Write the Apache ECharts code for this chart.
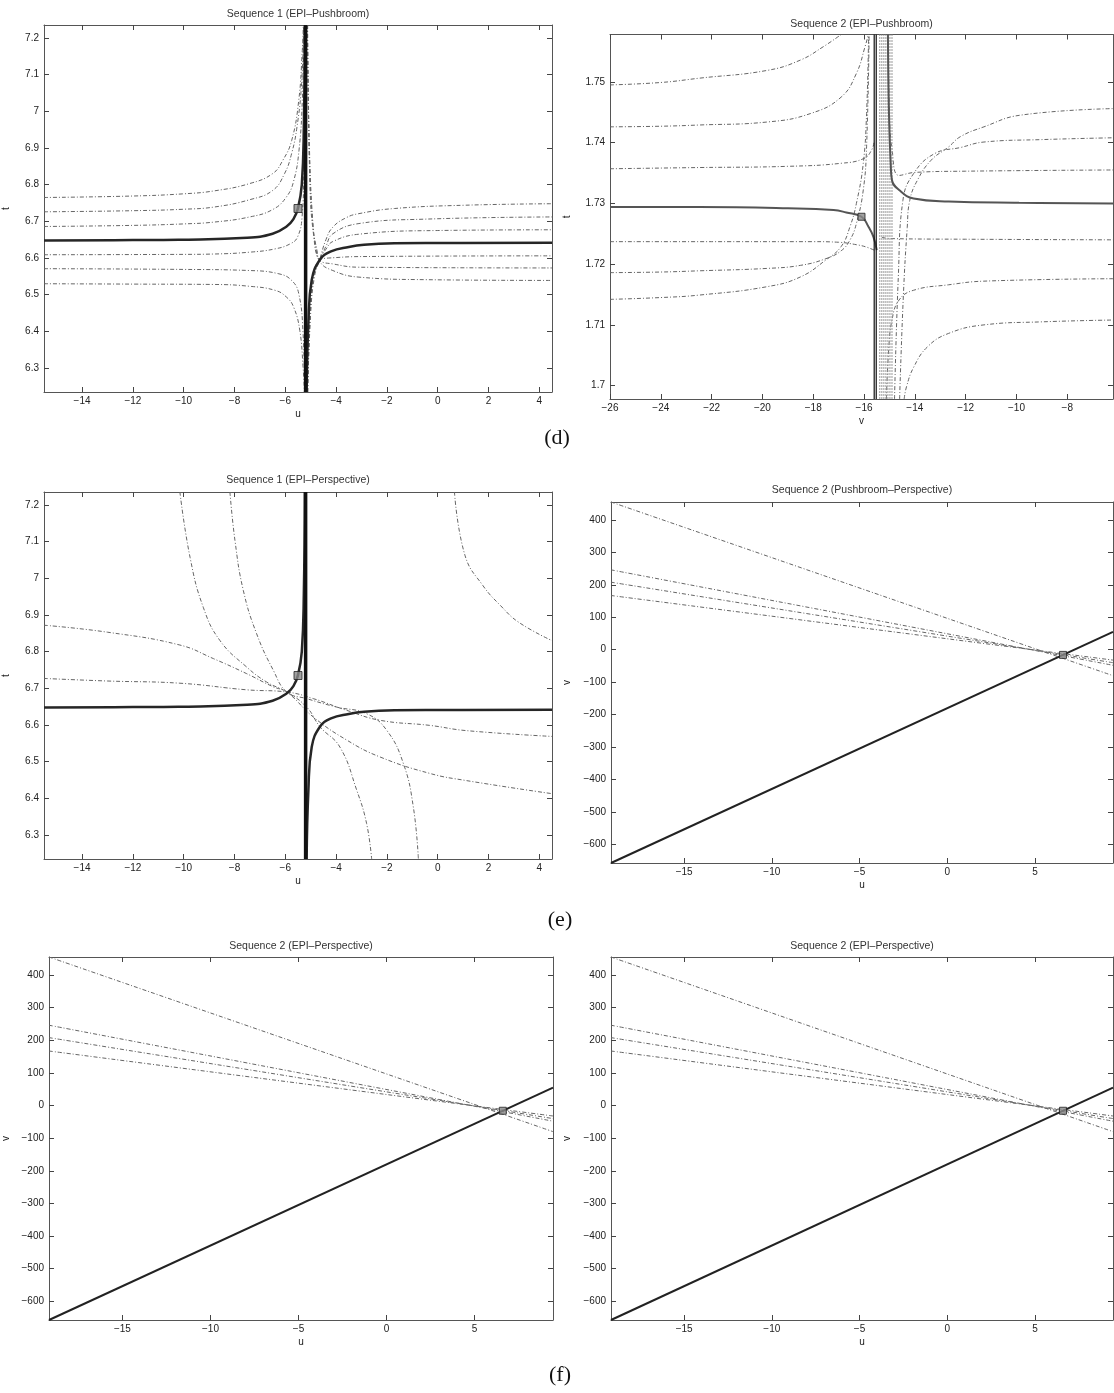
<!DOCTYPE html>
<html>
<head>
<meta charset="utf-8">
<title>Epipolar curves</title>
<script src="https://cdn.jsdelivr.net/npm/echarts@6/dist/echarts.min.js"></script>
<style>
  html, body { margin: 0; padding: 0; background: #fff; }
  #main { width: 1114px; height: 1393px; }
</style>
</head>
<body>
<div id="main"></div>
<script>
// ---- axis ranges & ticks ----
const s1X = [-15.5, 4.5]
const s1Y = [6.235, 7.235]
const s2X = [-26, -6.2]
const s2Y = [1.6978, 1.7578]
const uvX = [-19.17, 9.45]
const uvY = [-657, 455]

const s1XTicks = [-14, -12, -10, -8, -6, -4, -2, 0, 2, 4]
const s1YTicks = [6.3, 6.4, 6.5, 6.6, 6.7, 6.8, 6.9, 7, 7.1, 7.2]
const s2XTicks = [-26, -24, -22, -20, -18, -16, -14, -12, -10, -8]
const s2YTicks = [1.7, 1.71, 1.72, 1.73, 1.74, 1.75]
const uvXTicks = [-15, -10, -5, 0, 5]
const uvYTicks = [-600, -500, -400, -300, -200, -100, 0, 100, 200, 300, 400]

// ---- sequence 1, EPI-Pushbroom (u, t) ----
const s1Pole = -5.2
const s1A = [[-15.5, 6.765], [-12, 6.769], [-10, 6.775], [-8.8, 6.783], [-7.4, 6.803], [-6.5, 6.83], [-6.1, 6.866], [-5.75, 6.92], [-5.47, 7.03], [-5.33, 7.166], [-5.29, 7.235]]
const s1B = [[-15.5, 6.726], [-12, 6.729], [-10, 6.733], [-8.8, 6.739], [-7.4, 6.759], [-6.5, 6.784], [-6.03, 6.83], [-5.75, 6.885], [-5.54, 6.957], [-5.36, 7.075], [-5.28, 7.235]]
const s1C = [[-15.5, 6.686], [-12, 6.689], [-10, 6.693], [-8.8, 6.698], [-7.4, 6.712], [-6.5, 6.732], [-5.96, 6.766], [-5.67, 6.81], [-5.46, 6.894], [-5.33, 7.03], [-5.26, 7.235]]
const s1E = [[-15.5, 6.609], [-10, 6.61], [-8.8, 6.611], [-7.4, 6.616], [-6.4, 6.625], [-5.8, 6.639], [-5.52, 6.657], [-5.34, 6.712], [-5.27, 6.85], [-5.24, 7.235]]
const s1F = [[-15.5, 6.571], [-10, 6.569], [-7.4, 6.566], [-6.25, 6.557], [-5.75, 6.539], [-5.47, 6.503], [-5.3, 6.394], [-5.24, 6.235]]
const s1G = [[-15.5, 6.53], [-12, 6.529], [-8.8, 6.528], [-7.4, 6.523], [-6.4, 6.512], [-5.96, 6.494], [-5.67, 6.466], [-5.43, 6.403], [-5.3, 6.303], [-5.25, 6.235]]
const s1R1 = [[-5.12, 6.235], [-5.0, 6.45], [-4.85, 6.55], [-4.65, 6.595], [-4.4, 6.65], [-4.13, 6.684], [-3.6, 6.71], [-3.1, 6.721], [-1.7, 6.735], [1.1, 6.744], [4.5, 6.748]]
const s1R2 = [[-5.12, 6.235], [-5.0, 6.47], [-4.85, 6.56], [-4.65, 6.595], [-4.4, 6.632], [-4.13, 6.666], [-3.1, 6.694], [-0.5, 6.706], [4.5, 6.712]]
const s1R3 = [[-5.12, 6.235], [-5.0, 6.49], [-4.85, 6.57], [-4.65, 6.597], [-4.4, 6.624], [-4.13, 6.645], [-3.1, 6.665], [0, 6.675], [4.5, 6.677]]
const s1R5 = [[-5.13, 7.235], [-5.05, 6.9], [-4.92, 6.7], [-4.8, 6.63], [-4.65, 6.598], [-4.3, 6.6], [-3.1, 6.604], [4.5, 6.606]]
const s1R6 = [[-5.13, 7.235], [-5.04, 6.85], [-4.9, 6.68], [-4.75, 6.62], [-4.65, 6.594], [-4.13, 6.584], [-3.1, 6.575], [4.5, 6.573]]
const s1R7 = [[-5.12, 7.235], [-5.03, 6.8], [-4.88, 6.66], [-4.65, 6.592], [-4.13, 6.566], [-3.1, 6.548], [-0.4, 6.541], [4.5, 6.539]]
// true curve (same in both sequence 1 plots)
const s1TrueLeft = [[-15.5, 6.648], [-12, 6.649], [-10.2, 6.65], [-7.5, 6.655], [-6.5, 6.666], [-5.95, 6.686], [-5.68, 6.706], [-5.5, 6.736], [-5.35, 6.8], [-5.27, 6.96], [-5.23, 7.235]]
const s1TrueRight = [[-5.16, 6.235], [-5.09, 6.423], [-4.96, 6.54], [-4.63, 6.596], [-4.2, 6.618], [-3.5, 6.63], [-2.9, 6.636], [-1.7, 6.64], [0, 6.641], [4.5, 6.642]]
const s1Mark = [[-5.5, 6.735]]

// ---- sequence 1, EPI-Perspective (u, t) ----
const s1P1 = [[-10.15, 7.235], [-9.75, 7.057], [-9.23, 6.921], [-8.57, 6.83], [-7.52, 6.758], [-6.73, 6.717], [-5.94, 6.69], [-5.16, 6.649], [-4.63, 6.595], [-3.85, 6.54], [-3.19, 6.423], [-2.8, 6.332], [-2.6, 6.235]]
const s1P2 = [[-8.18, 7.235], [-7.98, 7.102], [-7.65, 6.966], [-7.13, 6.849], [-6.47, 6.749], [-5.94, 6.69], [-5.16, 6.672], [-3.98, 6.649], [-2.8, 6.631], [-2.01, 6.586], [-1.35, 6.495], [-0.96, 6.377], [-0.76, 6.235]]
const s1P3 = [[0.66, 7.235], [1.08, 7.061], [1.78, 6.98], [2.48, 6.925], [3.19, 6.88], [4.5, 6.83]]
const s1P4 = [[-15.5, 6.872], [-13, 6.853], [-10.15, 6.818], [-8.83, 6.781], [-7.52, 6.74], [-6.47, 6.704], [-5.94, 6.69], [-4.9, 6.622], [-3.58, 6.559], [-2.27, 6.513], [-0.3, 6.468], [1.1, 6.449], [4.5, 6.413]]
const s1P5 = [[-15.5, 6.727], [-13, 6.72], [-10.15, 6.714], [-7.52, 6.696], [-5.94, 6.69], [-4.9, 6.672], [-3.58, 6.64], [-2.27, 6.613], [-0.3, 6.599], [1.1, 6.585], [4.5, 6.569]]

// ---- sequence 2, EPI-Pushbroom (v, t) ----
const s2Poles = [-15.6, -15.52]
const s2Band = [-15.38, -15.3, -15.22, -15.14, -15.06, -14.98, -14.9]
const s2L1 = [[-26, 1.7495], [-24, 1.7499], [-22.5, 1.7506], [-19.8, 1.7519], [-18.5, 1.7536], [-17.6, 1.7558], [-16.9, 1.7578]]
const s2L2 = [[-26, 1.7426], [-24, 1.7427], [-22.5, 1.7429], [-19.8, 1.7434], [-18.1, 1.7448], [-16.9, 1.7475], [-16.3, 1.7514], [-15.96, 1.7558], [-15.83, 1.7578]]
const s2L3 = [[-26, 1.7357], [-22.5, 1.7359], [-19, 1.7361], [-16.9, 1.7366], [-16.0, 1.7374], [-15.7, 1.7388], [-15.6, 1.7402]]
const s2L5 = [[-26, 1.7237], [-22, 1.7237], [-18, 1.7237], [-17, 1.7236], [-16.3, 1.7232], [-15.9, 1.7228], [-15.55, 1.7222]]
const s2L6 = [[-26, 1.7186], [-24, 1.7187], [-22.5, 1.7189], [-19.8, 1.7193], [-18.5, 1.7198], [-17.5, 1.7209], [-16.9, 1.7222], [-16.55, 1.724], [-16.3, 1.7267], [-16.03, 1.7322], [-15.9, 1.7393], [-15.8, 1.7578]]
const s2L7 = [[-26, 1.7142], [-24, 1.7145], [-22.5, 1.7149], [-19.8, 1.7163], [-18.5, 1.7179], [-17.5, 1.7207], [-16.9, 1.7229], [-16.55, 1.7262], [-16.3, 1.73], [-16.03, 1.7366], [-15.9, 1.7448], [-15.82, 1.7578]]
const s2R1 = [[-14.6, 1.6978], [-14.45, 1.715], [-14.3, 1.726], [-14.2, 1.7305], [-13.9, 1.7338], [-13.36, 1.7371], [-12.67, 1.7393], [-12.2, 1.741], [-11.28, 1.7426], [-9.88, 1.7445], [-6.2, 1.7456]]
const s2R2 = [[-14.8, 1.6978], [-14.65, 1.718], [-14.47, 1.7305], [-14.05, 1.7349], [-13.22, 1.7382], [-12.2, 1.7392], [-11.28, 1.7401], [-9, 1.7405], [-6.2, 1.7408]]
const s2R3 = [[-15.05, 1.7578], [-15.0, 1.745], [-14.9, 1.739], [-14.62, 1.7346], [-14, 1.7351], [-12, 1.7353], [-6.2, 1.7355]]
const s2R5 = [[-15.3, 1.7244], [-14.9, 1.7242], [-12, 1.7241], [-6.2, 1.724]]
const s2R6 = [[-15.12, 1.6978], [-15.03, 1.7059], [-14.9, 1.7108], [-14.62, 1.7141], [-14.05, 1.7157], [-12.67, 1.7166], [-11.28, 1.7172], [-6.2, 1.7176]]
const s2R7 = [[-14.42, 1.6978], [-14.33, 1.6998], [-14.05, 1.703], [-13.5, 1.7064], [-12.67, 1.7086], [-11.28, 1.71], [-9, 1.7105], [-6.2, 1.7108]]
const s2TrueLeft = [[-26, 1.7294], [-22.5, 1.7294], [-19, 1.7292], [-17.2, 1.7289], [-16.7, 1.7285], [-16.1, 1.7278], [-15.83, 1.7262], [-15.63, 1.7245], [-15.5, 1.7223]]
const s2TrueRight = [[-15.06, 1.7578], [-15.02, 1.745], [-14.95, 1.7365], [-14.9, 1.7338], [-14.62, 1.7322], [-14.05, 1.7308], [-12.67, 1.7303], [-9.9, 1.7301], [-6.2, 1.73]]
const s2Mark = [[-16.1, 1.7278]]

// ---- sequence 2, (u, v) line plots ----
const uvSteep = [[-19.17, -657], [9.45, 55]]
const uvA = [[-19.17, 455], [9.45, -80]]
const uvB = [[-19.17, 246], [9.45, -48]]
const uvC = [[-19.17, 208], [9.45, -40]]
const uvD = [[-19.17, 167], [9.45, -32]]
const uvMark = [[6.6, -16]]

// ---- layout ----
const font = '"Liberation Sans", Arial, sans-serif'
const panels = [
  { grid: { left: 44, top: 25, width: 508, height: 367 }, xr: s1X, yr: s1Y, xt: s1XTicks, yt: s1YTicks, xName: 'u', yName: 't', yGap: 33, title: 'Sequence 1 (EPI\u2013Pushbroom)', ty: 14 },
  { grid: { left: 610, top: 34.5, width: 503, height: 364.5 }, xr: s2X, yr: s2Y, xt: s2XTicks, yt: s2YTicks, xName: 'v', yName: 't', yGap: 38, title: 'Sequence 2 (EPI\u2013Pushbroom)', ty: 24 },
  { grid: { left: 44, top: 492, width: 508, height: 367 }, xr: s1X, yr: s1Y, xt: s1XTicks, yt: s1YTicks, xName: 'u', yName: 't', yGap: 33, title: 'Sequence 1 (EPI\u2013Perspective)', ty: 480 },
  { grid: { left: 611, top: 502, width: 502, height: 361 }, xr: uvX, yr: uvY, xt: uvXTicks, yt: uvYTicks, xName: 'u', yName: 'v', yGap: 39, title: 'Sequence 2 (Pushbroom\u2013Perspective)', ty: 490 },
  { grid: { left: 49, top: 957, width: 504, height: 363 }, xr: uvX, yr: uvY, xt: uvXTicks, yt: uvYTicks, xName: 'u', yName: 'v', yGap: 38, title: 'Sequence 2 (EPI\u2013Perspective)', ty: 946 },
  { grid: { left: 611, top: 957, width: 502, height: 363 }, xr: uvX, yr: uvY, xt: uvXTicks, yt: uvYTicks, xName: 'u', yName: 'v', yGap: 39, title: 'Sequence 2 (EPI\u2013Perspective)', ty: 946 },
]

const fmt = (v) => String(Math.round(v * 1000) / 1000).replace('-', '\u2212')
const frame = { onZero: false, lineStyle: { color: '#555', width: 1 } }

const grids = []
const xAxes = []
const yAxes = []
const graphics = []
panels.forEach((p, g) => {
  grids.push(Object.assign({ containLabel: false }, p.grid))
  const xTick = { inside: true, length: 5, customValues: p.xt, lineStyle: { color: '#444' } }
  const yTick = { inside: true, length: 5, customValues: p.yt, lineStyle: { color: '#444' } }
  xAxes.push({
    gridIndex: g, type: 'value', position: 'bottom', min: p.xr[0], max: p.xr[1],
    axisLine: frame, axisTick: xTick, splitLine: { show: false },
    axisLabel: { customValues: p.xt, formatter: fmt, margin: 4, fontSize: 10, color: '#222', fontFamily: font },
    name: p.xName, nameLocation: 'middle', nameGap: 17,
    nameTextStyle: { fontSize: 10, color: '#222', fontFamily: font },
  })
  xAxes.push({
    gridIndex: g, type: 'value', position: 'top', min: p.xr[0], max: p.xr[1],
    axisLine: frame, axisTick: xTick, axisLabel: { show: false }, splitLine: { show: false },
  })
  yAxes.push({
    gridIndex: g, type: 'value', position: 'left', min: p.yr[0], max: p.yr[1],
    axisLine: frame, axisTick: yTick, splitLine: { show: false },
    axisLabel: { customValues: p.yt, formatter: fmt, margin: 5, fontSize: 10, color: '#222', fontFamily: font },
    name: p.yName, nameLocation: 'middle', nameGap: p.yGap, nameRotate: 90,
    nameTextStyle: { fontSize: 10, color: '#222', fontFamily: font },
  })
  yAxes.push({
    gridIndex: g, type: 'value', position: 'right', min: p.yr[0], max: p.yr[1],
    axisLine: frame, axisTick: yTick, axisLabel: { show: false }, splitLine: { show: false },
  })
  graphics.push({
    type: 'text', x: p.grid.left + p.grid.width / 2, y: p.ty, z: 10,
    style: { text: p.title, font: '10.5px ' + font, fill: '#333', align: 'center', verticalAlign: 'middle' },
  })
})

const labels = [['(d)', 557, 438], ['(e)', 560, 920], ['(f)', 560, 1375]]
labels.forEach(([t, x, y]) => {
  graphics.push({
    type: 'text', x: x, y: y,
    style: { text: t, font: '22px "Liberation Serif", "Times New Roman", serif', fill: '#111', align: 'center', verticalAlign: 'middle' },
  })
})

// ---- series helpers ----
const thin = { color: '#666', width: 1, type: [4, 2, 1, 2] }
const bold = { color: '#262626', width: 2.5 }
const pole = { color: '#111', width: 3.5 }

function curve(g, data, style, z) {
  return {
    type: 'line', xAxisIndex: 2 * g, yAxisIndex: 2 * g, data: data,
    showSymbol: false, smooth: 0.45, silent: true,
    lineStyle: style, z: z || 2,
  }
}
function vline(g, u, yr, style, z) {
  return {
    type: 'line', xAxisIndex: 2 * g, yAxisIndex: 2 * g, data: [[u, yr[0]], [u, yr[1]]],
    showSymbol: false, silent: true, lineStyle: style, z: z || 4,
  }
}
function mark(g, data, size) {
  return {
    type: 'scatter', xAxisIndex: 2 * g, yAxisIndex: 2 * g, data: data, symbol: 'rect',
    symbolSize: size, silent: true, z: 6,
    itemStyle: { color: '#8a8a8a', borderColor: '#222', borderWidth: 1 },
  }
}

const series = []
// panel 0
;[s1A, s1B, s1C, s1E, s1F, s1G, s1R1, s1R2, s1R3, s1R5, s1R6, s1R7].forEach((d) => series.push(curve(0, d, thin)))
series.push(curve(0, s1TrueLeft, bold, 3), curve(0, s1TrueRight, bold, 3))
series.push(vline(0, s1Pole, s1Y, pole))
series.push(mark(0, s1Mark, 8))
// panel 1
;[s2L1, s2L2, s2L3, s2L5, s2L6, s2L7, s2R1, s2R2, s2R3, s2R5, s2R6, s2R7].forEach((d) => series.push(curve(1, d, thin)))
s2Band.forEach((u) => series.push(vline(1, u, s2Y, { color: '#9a9a9a', width: 1, type: [2, 1] }, 2)))
s2Poles.forEach((u) => series.push(vline(1, u, s2Y, { color: '#111', width: 1.2 })))
series.push(curve(1, s2TrueLeft, { color: '#555', width: 2 }, 3), curve(1, s2TrueRight, { color: '#555', width: 2 }, 3))
series.push(mark(1, s2Mark, 7))
// panel 2
;[s1P1, s1P2, s1P3, s1P4, s1P5].forEach((d) => series.push(curve(2, d, thin)))
series.push(curve(2, s1TrueLeft, bold, 3), curve(2, s1TrueRight, bold, 3))
series.push(vline(2, s1Pole, s1Y, pole))
series.push(mark(2, s1Mark, 8))
// panels 3-5
;[3, 4, 5].forEach((g) => {
  ;[uvA, uvB, uvC, uvD].forEach((d) => series.push(curve(g, d, thin)))
  series.push(curve(g, uvSteep, { color: '#222', width: 2 }, 3))
  series.push(mark(g, uvMark, 7))
})

const chart = echarts.init(document.getElementById('main'))
chart.setOption({
  animation: false,
  backgroundColor: '#fff',
  grid: grids,
  xAxis: xAxes,
  yAxis: yAxes,
  graphic: graphics,
  series: series,
})
</script>
</body>
</html>
